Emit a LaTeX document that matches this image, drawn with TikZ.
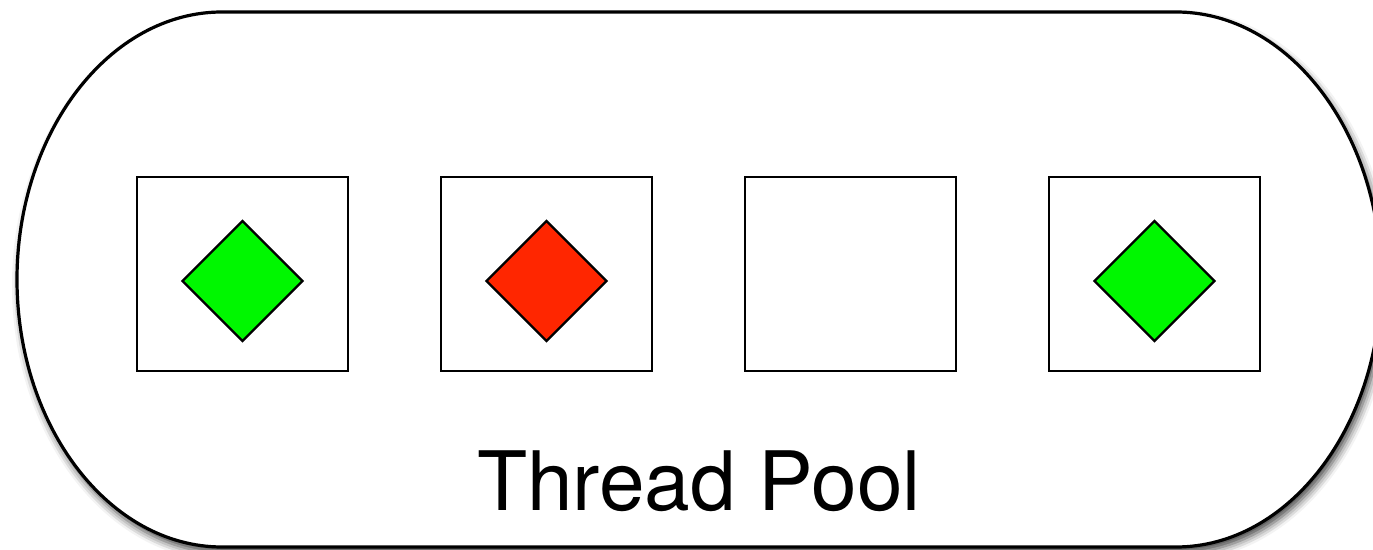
\documentclass[tikz,border=0pt]{standalone}
\usepackage{fontspec}
\setmainfont{TeX Gyre Heros}
\usepackage{xcolor}
\definecolor{threadGreen}{RGB}{0, 247, 0}
\definecolor{threadRed}{RGB}{255, 38, 0}
\usepackage{tikz}
\usetikzlibrary{positioning,shapes,shadows.blur}

\begin{document}
\begin{tikzpicture}[x=0.5pt, y=-0.5pt,
  slot/.style={draw, line width=1.2pt, fill=white, minimum width=105.5pt, minimum height=97pt, inner sep=0pt, outer sep=0pt},
  gem/.style={draw, diamond, line width=1.2pt, aspect=1, minimum width=60.5pt, minimum height=60.5pt, inner sep=0pt}]
\useasboundingbox (0,0) rectangle (1373,550);
% the pool
\draw[line width=1.6pt, fill=white, blur shadow={shadow xshift=1.5pt, shadow yshift=-3pt, shadow blur radius=4pt, shadow opacity=75}]
  (17,279.5) .. controls (17,132.4) and (109.3,12) .. (222,12)
  -- (1176,12) .. controls (1288.7,12) and (1381,132.4) .. (1381,279.5)
  .. controls (1381,426.6) and (1288.7,547) .. (1176,547)
  -- (222,547) .. controls (109.3,547) and (17,426.6) .. (17,279.5) -- cycle;
% threads
\node[slot] (t1) at (242.5,274) {};
\node[slot, right=46.5pt of t1] (t2) {};
\node[slot, right=46.5pt of t2] (t3) {};
\node[slot, right=46.5pt of t3] (t4) {};
% tasks
\node[gem, fill=threadGreen] (job1) at ([yshift=-3.5pt]t1.center) {};
\node[gem, fill=threadRed] (job2) at ([yshift=-3.5pt]t2.center) {};
\node[gem, fill=threadGreen] (job4) at ([yshift=-3.5pt]t4.center) {};
\node[anchor=base, inner sep=0pt, font=\fontsize{41pt}{49pt}\selectfont] (title) at (699,511) {Thread Pool};
\end{tikzpicture}
\end{document}
